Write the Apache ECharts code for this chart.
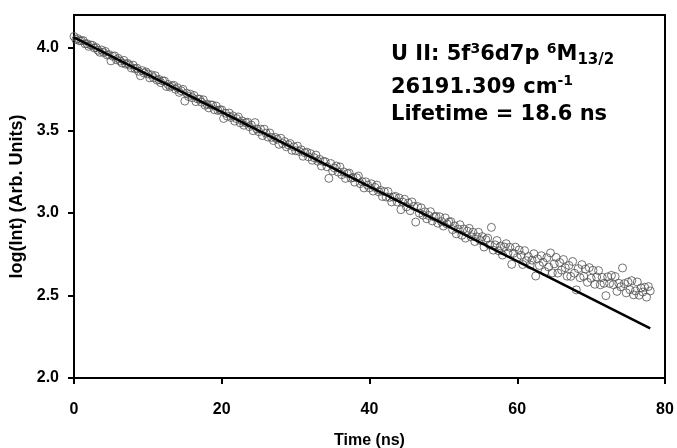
<!DOCTYPE html>
<html>
<head>
<meta charset="utf-8">
<script src="https://cdn.jsdelivr.net/npm/echarts@6/dist/echarts.min.js"></script>
<style>
  html, body { margin: 0; padding: 0; background: #fff; }
  #chart { width: 677px; height: 448px; }
</style>
</head>
<body>
<div id="chart"></div>
<script>
// Measured decay data: time (ns) and log(Int)
const time = [
  0,0.25,0.5,0.75, 1,1.25,1.5,1.75, 2,2.25,2.5,2.75, 3,3.25,3.5,3.75, 4,4.25,4.5,4.75,
  5,5.25,5.5,5.75, 6,6.25,6.5,6.75, 7,7.25,7.5,7.75, 8,8.25,8.5,8.75, 9,9.25,9.5,9.75,
  10,10.25,10.5,10.75, 11,11.25,11.5,11.75, 12,12.25,12.5,12.75, 13,13.25,13.5,13.75, 14,14.25,14.5,14.75,
  15,15.25,15.5,15.75, 16,16.25,16.5,16.75, 17,17.25,17.5,17.75, 18,18.25,18.5,18.75, 19,19.25,19.5,19.75,
  20,20.25,20.5,20.75, 21,21.25,21.5,21.75, 22,22.25,22.5,22.75, 23,23.25,23.5,23.75, 24,24.25,24.5,24.75,
  25,25.25,25.5,25.75, 26,26.25,26.5,26.75, 27,27.25,27.5,27.75, 28,28.25,28.5,28.75, 29,29.25,29.5,29.75,
  30,30.25,30.5,30.75, 31,31.25,31.5,31.75, 32,32.25,32.5,32.75, 33,33.25,33.5,33.75, 34,34.25,34.5,34.75,
  35,35.25,35.5,35.75, 36,36.25,36.5,36.75, 37,37.25,37.5,37.75, 38,38.25,38.5,38.75, 39,39.25,39.5,39.75,
  40,40.25,40.5,40.75, 41,41.25,41.5,41.75, 42,42.25,42.5,42.75, 43,43.25,43.5,43.75, 44,44.25,44.5,44.75,
  45,45.25,45.5,45.75, 46,46.25,46.5,46.75, 47,47.25,47.5,47.75, 48,48.25,48.5,48.75, 49,49.25,49.5,49.75,
  50,50.25,50.5,50.75, 51,51.25,51.5,51.75, 52,52.25,52.5,52.75, 53,53.25,53.5,53.75, 54,54.25,54.5,54.75,
  55,55.25,55.5,55.75, 56,56.25,56.5,56.75, 57,57.25,57.5,57.75, 58,58.25,58.5,58.75, 59,59.25,59.5,59.75,
  60,60.25,60.5,60.75, 61,61.25,61.5,61.75, 62,62.25,62.5,62.75, 63,63.25,63.5,63.75, 64,64.25,64.5,64.75,
  65,65.25,65.5,65.75, 66,66.25,66.5,66.75, 67,67.25,67.5,67.75, 68,68.25,68.5,68.75, 69,69.25,69.5,69.75,
  70,70.25,70.5,70.75, 71,71.25,71.5,71.75, 72,72.25,72.5,72.75, 73,73.25,73.5,73.75, 74,74.25,74.5,74.75,
  75,75.25,75.5,75.75, 76,76.25,76.5,76.75, 77,77.25,77.5,77.75, 78
];
const logInt = [
  4.070,4.051,4.057,4.044, 4.044,4.045,4.025,4.026, 4.010,4.018,4.016,4.000, 4.003,3.986,3.974,3.988, 3.972,3.979,3.957,3.960,
  3.922,3.950,3.952,3.929, 3.937,3.921,3.909,3.925, 3.902,3.907,3.897,3.879, 3.896,3.874,3.878,3.859, 3.832,3.863,3.848,3.855,
  3.843,3.819,3.837,3.820, 3.832,3.805,3.809,3.790, 3.801,3.800,3.767,3.779, 3.763,3.770,3.774,3.750, 3.759,3.731,3.741,3.749,
  3.678,3.726,3.706,3.720, 3.699,3.712,3.675,3.691, 3.690,3.672,3.686,3.653, 3.660,3.637,3.655,3.654, 3.626,3.648,3.621,3.625,
  3.625,3.573,3.605,3.587, 3.606,3.579,3.589,3.557, 3.572,3.582,3.546,3.558, 3.532,3.547,3.550,3.523, 3.533,3.499,3.548,3.509,
  3.493,3.508,3.469,3.508, 3.484,3.460,3.485,3.458, 3.439,3.458,3.448,3.416, 3.453,3.421,3.433,3.401, 3.413,3.421,3.380,3.401,
  3.377,3.405,3.373,3.383, 3.344,3.365,3.369,3.340, 3.360,3.320,3.335,3.351, 3.314,3.325,3.285,3.312, 3.311,3.280,3.210,3.300,
  3.256,3.273,3.285,3.248, 3.279,3.232,3.249,3.210, 3.239,3.242,3.211,3.215, 3.187,3.214,3.224,3.178, 3.190,3.152,3.189,3.169,
  3.152,3.177,3.133,3.155, 3.169,3.128,3.137,3.100, 3.130,3.097,3.130,3.095, 3.067,3.096,3.101,3.067, 3.091,3.020,3.066,3.083,
  3.037,3.060,3.014,3.067, 3.040,2.945,3.039,2.999, 3.031,2.987,3.007,2.965, 2.985,3.008,2.952,2.976, 2.980,2.938,2.977,2.948,
  2.921,2.970,2.933,2.945, 2.948,2.899,2.922,2.874, 2.902,2.929,2.865,2.903, 2.848,2.890,2.907,2.856, 2.883,2.827,2.856,2.883,
  2.833,2.857,2.794,2.838, 2.848,2.806,2.913,2.775, 2.807,2.833,2.771,2.800, 2.745,2.794,2.814,2.758, 2.792,2.689,2.756,2.793,
  2.730,2.776,2.744,2.688, 2.772,2.711,2.736,2.685, 2.714,2.753,2.618,2.722, 2.682,2.741,2.701,2.645, 2.729,2.673,2.758,2.637,
  2.692,2.731,2.636,2.700, 2.654,2.718,2.668,2.617, 2.682,2.616,2.706,2.635, 2.534,2.663,2.608,2.687, 2.616,2.660,2.580,2.669,
  2.604,2.653,2.568,2.612, 2.651,2.565,2.610,2.574, 2.499,2.613,2.573,2.622, 2.566,2.615,2.525,2.574, 2.553,2.667,2.572,2.516,
  2.581,2.535,2.590,2.504, 2.528,2.582,2.502,2.546, 2.521,2.550,2.490,2.554, 2.528
];
// Single-exponential fit line (endpoints)
const fitTime = [0, 78];
const fitLogInt = [4.065, 2.301];
// Axis ticks
const xTicks = [0, 20, 40, 60, 80];
const yTicks = [2.0, 2.5, 3.0, 3.5, 4.0];

const chart = echarts.init(document.getElementById('chart'), null, { renderer: 'canvas' });
const axisFont = { fontFamily: '"Liberation Sans", Arial, sans-serif', fontWeight: 'bold', fontSize: 16, color: '#000' };
const annFont = '"DejaVu Sans", sans-serif';

chart.setOption({
  animation: false,
  backgroundColor: '#fff',
  grid: {
    left: 74, right: 12, top: 15, bottom: 70,
    containLabel: false, outerBoundsMode: 'none',
    show: true, borderColor: '#000', borderWidth: 2, backgroundColor: 'transparent'
  },
  xAxis: {
    type: 'value', min: 0, max: 80, interval: 20,
    name: 'Time (ns)', nameLocation: 'middle', nameGap: 55,
    nameTextStyle: Object.assign({}, axisFont),
    axisLine: { lineStyle: { color: '#000', width: 2 } },
    axisTick: { show: true, length: 6, lineStyle: { color: '#000', width: 2 }, customValues: xTicks },
    axisLabel: Object.assign({ margin: 24, customValues: xTicks, formatter: v => String(v) }, axisFont),
    splitLine: { show: false }
  },
  yAxis: {
    type: 'value', min: 2.0, max: 4.2, interval: 0.5,
    name: 'log(Int) (Arb. Units)', nameLocation: 'middle', nameGap: 45,
    nameTextStyle: Object.assign({}, axisFont, { fontSize: 18 }),
    axisLine: { lineStyle: { color: '#000', width: 2 } },
    axisTick: { show: true, length: 6, lineStyle: { color: '#000', width: 2 }, customValues: yTicks },
    axisLabel: Object.assign({ margin: 15, customValues: yTicks, formatter: v => v.toFixed(1) }, axisFont),
    splitLine: { show: false }
  },
  series: [
    {
      type: 'scatter',
      data: time.map((t, i) => [t, logInt[i]]),
      symbol: 'circle', symbolSize: 8,
      itemStyle: { color: 'rgba(255,255,255,0)', borderColor: '#505050', borderWidth: 1 },
      z: 2
    },
    {
      type: 'line',
      data: fitTime.map((t, i) => [t, fitLogInt[i]]),
      showSymbol: false, symbol: 'none',
      lineStyle: { color: '#000', width: 2.5 },
      z: 3
    }
  ],
  graphic: [
    {
      type: 'text', x: 391, y: 55, z: 10,
      style: {
        text: '{m|U II: 5f}{p|3}{m|6d7p }{p|6}{m|M}{b|13/2}',
        verticalAlign: 'middle', align: 'left',
        rich: {
          m: { fontFamily: annFont, fontWeight: 'bold', fontSize: 21, lineHeight: 26, fill: '#000' },
          p: { fontFamily: annFont, fontWeight: 'bold', fontSize: 14, lineHeight: 14, fill: '#000', verticalAlign: 'top' },
          b: { fontFamily: annFont, fontWeight: 'bold', fontSize: 15, lineHeight: 15, fill: '#000', verticalAlign: 'bottom' }
        }
      }
    },
    {
      type: 'text', x: 391, y: 88, z: 10,
      style: {
        text: '{m|26191.309 cm}{p|-1}',
        verticalAlign: 'middle', align: 'left',
        rich: {
          m: { fontFamily: annFont, fontWeight: 'bold', fontSize: 21, lineHeight: 28, fill: '#000' },
          p: { fontFamily: annFont, fontWeight: 'bold', fontSize: 14, lineHeight: 14, fill: '#000', verticalAlign: 'top' }
        }
      }
    },
    {
      type: 'text', x: 391, y: 115, z: 10,
      style: {
        text: 'Lifetime = 18.6 ns',
        verticalAlign: 'middle', align: 'left',
        fontFamily: annFont, fontWeight: 'bold', fontSize: 21, fill: '#000'
      }
    }
  ]
});
</script>
</body>
</html>
